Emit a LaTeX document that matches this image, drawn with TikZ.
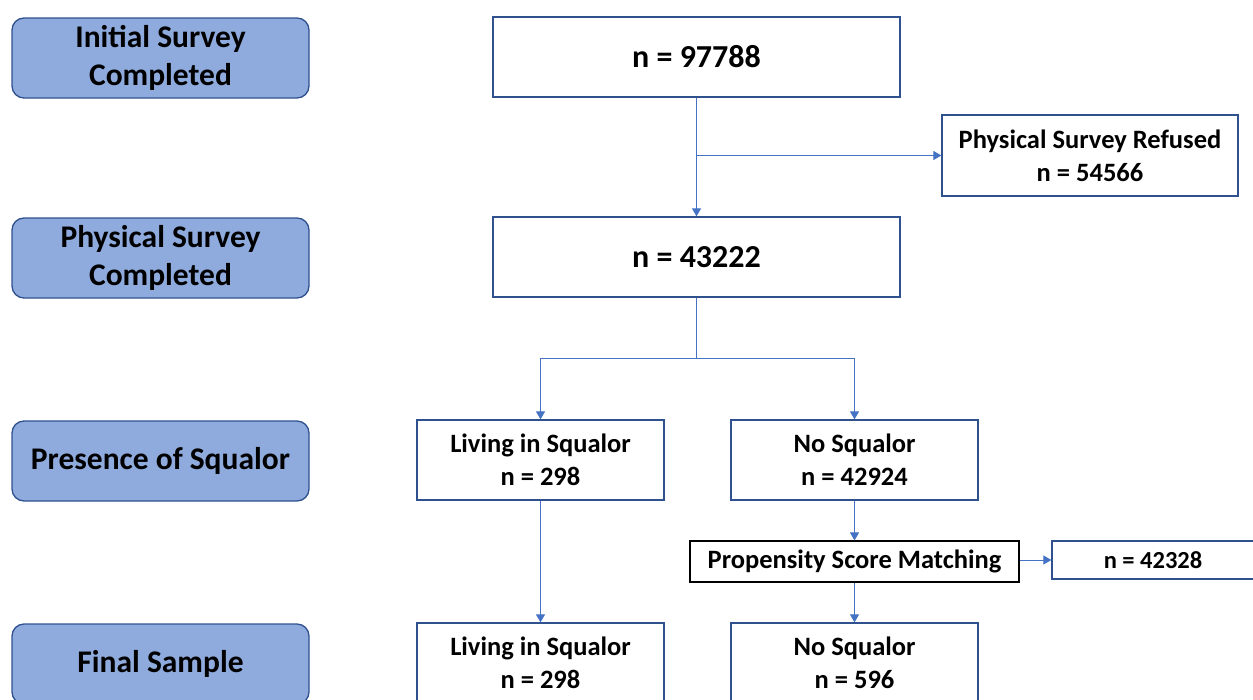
\documentclass[tikz,border=0pt]{standalone}
\usepackage{fontspec}
\setmainfont{Carlito}
\usetikzlibrary{arrows.meta}
\definecolor{stagefill}{HTML}{8FAADC}
\definecolor{boxline}{HTML}{2F528F}
\definecolor{linkline}{HTML}{4472C4}
\begin{document}
\begin{tikzpicture}[x=1pt,y=-1pt,
  stagebox/.style={draw=boxline, fill=stagefill, line width=1.3pt, rounded corners=12pt,
    minimum width=297pt, minimum height=80pt, align=center, font=\fontsize{31.5}{38}\selectfont\bfseries, inner sep=0pt},
  countbox/.style={draw=boxline, fill=white, line width=1.3pt, minimum width=407pt, minimum height=80pt,
    align=center, font=\fontsize{32}{38}\selectfont\bfseries, inner sep=0pt},
  smallbox/.style={draw=boxline, fill=white, line width=1.3pt, minimum height=80pt,
    align=center, font=\fontsize{26.5}{33}\selectfont\bfseries, inner sep=0pt},
  conn/.style={draw=linkline, line width=1pt},
  arr/.style={conn, -{Triangle[length=8pt,width=9pt]}}]
\useasboundingbox (0,0) rectangle (1253,699);
\clip (0,0) rectangle (1253,699);

% stage labels on the left
\node[stagebox] (st1) at (160.5,58) {Initial Survey\\Completed};
\node[stagebox] (st2) at (160.5,258) {Physical Survey\\Completed};
\node[stagebox] (st3) at (160.5,461) {Presence of Squalor};
\node[stagebox] (st4) at (160.5,664) {Final Sample};

% counts
\node[countbox] (all) at (696.5,57) {n = 97788};
\node[countbox] (phys) at (696.5,257) {n = 43222};
\node[smallbox, minimum width=296pt, minimum height=81pt] (refused) at (1090,155.5) {Physical Survey Refused\\n = 54566};
\node[smallbox, minimum width=247pt, text depth=-2pt] (livA) at (540.5,460) {Living in Squalor\\n = 298};
\node[smallbox, minimum width=247pt, text depth=-2pt] (noA) at (854.5,460) {No Squalor\\n = 42924};
\node[smallbox, draw=black, line width=1.1pt, minimum width=329pt, minimum height=41pt] (psm) at (854.5,561.5) {\raisebox{-2pt}{Propensity Score Matching}};
\node[smallbox, minimum width=202pt, minimum height=38pt, font=\fontsize{24.5}{30}\selectfont\bfseries] (unm) at (1153,560) {\raisebox{-1pt}{n = 42328}};
\node[smallbox, minimum width=247pt, text depth=-2pt] (livB) at (540.5,663) {Living in Squalor\\n = 298};
\node[smallbox, minimum width=247pt, text depth=-2pt] (noB) at (854.5,663) {No Squalor\\n = 596};

% connectors
\draw[arr] (all.south) -- (phys.north);
\draw[arr] (all.south |- refused.west) -- (refused.west);
\draw[conn] (phys.south) -- ++(0,61) coordinate (split);
\draw[arr] (split) -| (livA.north);
\draw[arr] (split) -| (noA.north);
\draw[arr] (noA.south) -- (psm.north);
\draw[arr] (psm.east |- unm.west) -- (unm.west);
\draw[arr] (psm.south) -- (noB.north);
\draw[arr] (livA.south) -- (livB.north);
\end{tikzpicture}
\end{document}
